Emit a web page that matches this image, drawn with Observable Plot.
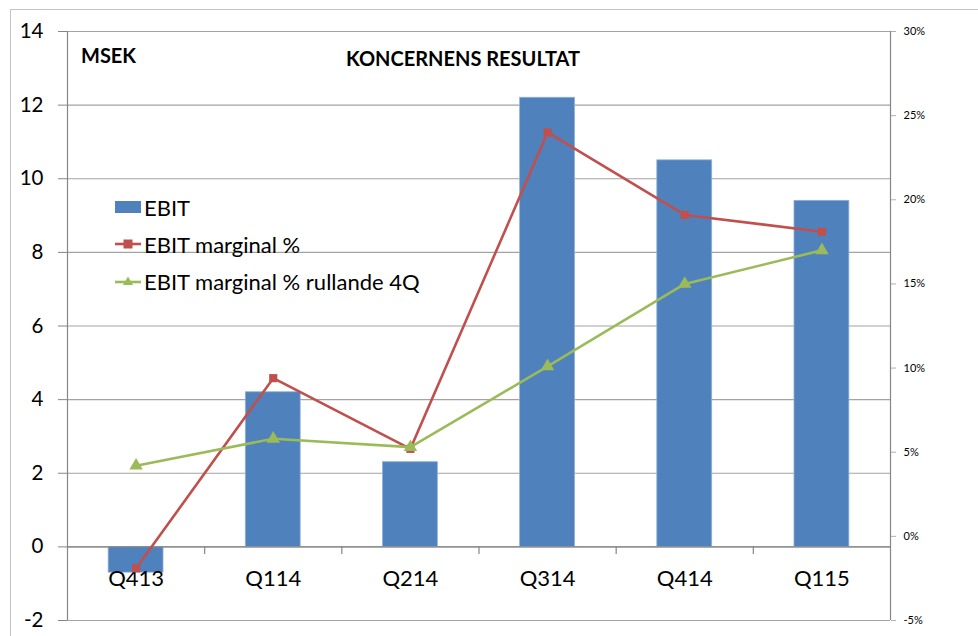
<!DOCTYPE html>
<html>
<head>
<meta charset="utf-8">
<script src="https://cdn.jsdelivr.net/npm/d3@7"></script>
<script src="https://cdn.jsdelivr.net/npm/@observablehq/plot@0.6"></script>
<style>
  html, body { margin: 0; padding: 0; background: #fff; }
  #wrap { position: relative; width: 978px; height: 636px; overflow: hidden; font-family: Lato, "Open Sans", sans-serif; }
  #frame { position: absolute; left: 10px; top: 9px; width: 1200px; height: 800px; border: 1.5px solid #c4c4c4; box-sizing: border-box; }
  #chart { position: absolute; left: 0; top: 0; }
  .t { position: absolute; white-space: nowrap; color: #000; }
  .leg { position: absolute; display: flex; align-items: center; font-size: 22px; white-space: nowrap; }
  .leg svg { margin-right: 3px; }
</style>
</head>
<body>
<div id="wrap">
  <div id="frame"></div>
  <div id="chart"></div>
  <div class="t" style="left:81px; top:43px; font-weight:700; font-size:20px;">MSEK</div>
  <div class="t" style="left:463px; top:46px; transform:translateX(-50%); font-weight:700; font-size:20px;">KONCERNENS RESULTAT</div>
  <div id="legend"></div>
</div>
<script>
// ---- data ----
const quarters = ["Q413", "Q114", "Q214", "Q314", "Q414", "Q115"];
const ebit = [-0.7, 4.2, 2.3, 12.2, 10.5, 9.4];            // MSEK (left axis)
const ebitMargin = [-1.9, 9.4, 5.2, 24.0, 19.1, 18.1];      // % (right axis)
const ebitMarginRolling4Q = [4.2, 5.8, 5.3, 10.1, 15.0, 17.0]; // % (right axis)
const leftTicks = [-2, 0, 2, 4, 6, 8, 10, 12, 14];
const rightTicks = [-5, 0, 5, 10, 15, 20, 25, 30];
const seriesNames = ["EBIT", "EBIT marginal %", "EBIT marginal % rullande 4Q"];

// ---- styles ----
const BLUE = "#4F81BD", RED = "#C0504D", GREEN = "#9BBB59";
const GRID = "#a3a3a3", AXIS = "#868686";

// right (%) axis mapped onto left scale: -5% -> -2, 30% -> 14
const L0 = leftTicks[0], L1 = leftTicks[leftTicks.length - 1];
const R0 = rightTicks[0], R1 = rightTicks[rightTicks.length - 1];
const toLeft = p => L0 + (p - R0) * (L1 - L0) / (R1 - R0);
const fromLeft = v => R0 + (v - L0) * (R1 - R0) / (L1 - L0);

const rows = quarters.map((q, i) => ({
  i, q, ebit: ebit[i], margin: ebitMargin[i], rolling: ebitMarginRolling4Q[i]
}));

const half = 0.2; // half bar width in category units

const plot = Plot.plot({
  width: 978,
  height: 636,
  marginLeft: 67,
  marginRight: 88,
  marginTop: 31,
  marginBottom: 16,
  style: { fontFamily: "Lato, 'Open Sans', sans-serif", fontSize: "19px", background: "transparent", color: "#000" },
  x: { domain: [-0.5, quarters.length - 0.5], axis: null },
  y: { domain: [L0, L1], axis: null },
  marks: [
    Plot.gridY(leftTicks, { stroke: GRID, strokeOpacity: 1, strokeWidth: 1.2 }),
    Plot.ruleX([-0.5], { stroke: AXIS, strokeWidth: 1.2 }),
    Plot.ruleX([quarters.length - 0.5], { stroke: AXIS, strokeWidth: 1.2 }),
    Plot.axisY(leftTicks, {
      anchor: "left", tickSize: 9, tickPadding: 15, fontSize: 20.5, stroke: AXIS,
      tickFormat: d => String(d), label: null
    }),
    Plot.axisY(rightTicks.map(toLeft), {
      anchor: "right", tickSize: 5, tickPadding: 8, fontSize: 11, stroke: "#b0b0b0",
      tickFormat: v => Math.round(fromLeft(v)) + "%", label: null
    }),
    Plot.rectY(rows, {
      x1: d => d.i - half, x2: d => d.i + half, y1: 0, y2: "ebit",
      fill: BLUE, stroke: "#8fb0da", strokeWidth: 0.8
    }),
    Plot.ruleY([0], { stroke: AXIS, strokeWidth: 1.2 }),
    Plot.ruleX(d3.range(quarters.length - 1), {
      x: d => d + 0.5, y1: 0, y2: L0, insetBottom: 66, stroke: AXIS, strokeWidth: 1.2
    }),
    Plot.text(rows, { x: "i", y: 0, text: "q", dy: 32, fontSize: 22, lineAnchor: "middle", fill: "#000" }),
    Plot.line(rows, { x: "i", y: d => toLeft(d.margin), stroke: RED, strokeWidth: 2.6 }),
    Plot.dot(rows, { x: "i", y: d => toLeft(d.margin), symbol: "square", r: 4.6, fill: RED, stroke: "none" }),
    Plot.line(rows, { x: "i", y: d => toLeft(d.rolling), stroke: GREEN, strokeWidth: 2.6 }),
    Plot.dot(rows, { x: "i", y: d => toLeft(d.rolling), symbol: "triangle", r: 5, fill: GREEN, stroke: "none" })
  ]
});
document.getElementById("chart").appendChild(plot);

// legend (inside plot area)
const legend = document.getElementById("legend");
const legItems = [
  { name: seriesNames[0], kind: "bar", color: BLUE, top: 207 },
  { name: seriesNames[1], kind: "square", color: RED, top: 244 },
  { name: seriesNames[2], kind: "triangle", color: GREEN, top: 281 }
];
legItems.forEach(it => {
  const div = document.createElement("div");
  div.className = "leg";
  div.style.left = "115px";
  div.style.top = (it.top - 14) + "px";
  div.style.height = "28px";
  let sw;
  if (it.kind === "bar") {
    sw = `<svg width="26" height="14"><rect x="0" y="1" width="26" height="12" fill="${it.color}"/></svg>`;
  } else if (it.kind === "square") {
    sw = `<svg width="26" height="14"><line x1="0" x2="26" y1="7" y2="7" stroke="${it.color}" stroke-width="2.6"/><rect x="8.5" y="2.5" width="9" height="9" fill="${it.color}"/></svg>`;
  } else {
    sw = `<svg width="26" height="14"><line x1="0" x2="26" y1="8" y2="8" stroke="${it.color}" stroke-width="2.6"/><path d="M13,2.5 L18,11 L8,11 Z" fill="${it.color}"/></svg>`;
  }
  div.innerHTML = sw + `<span>${it.name}</span>`;
  legend.appendChild(div);
});
</script>
</body>
</html>
